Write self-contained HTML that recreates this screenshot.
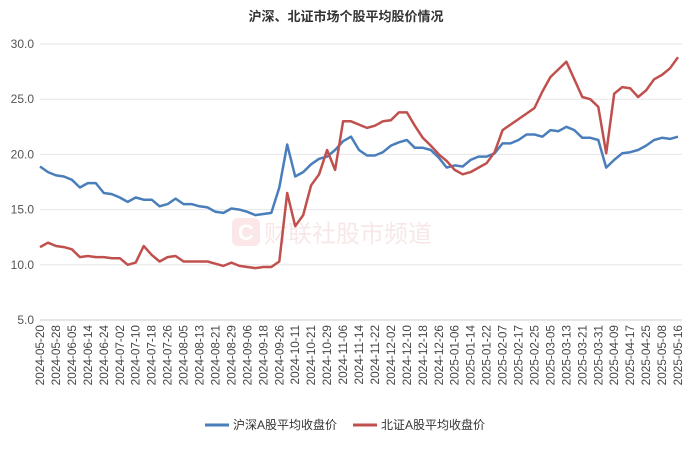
<!DOCTYPE html>
<html><head><meta charset="utf-8"><style>
body{margin:0;background:#fff;font-family:"Liberation Sans","Noto Sans CJK SC",sans-serif;}
svg text{font-family:"Liberation Sans","Noto Sans CJK SC",sans-serif;}
</style></head><body>
<svg id="chart" width="693" height="444">
<text x="346" y="21" text-anchor="middle" font-size="13" font-weight="bold" fill="#333">沪深、北证市场个股平均股价情况</text>
<g opacity="0.11">
<rect x="232" y="218" width="28" height="28" rx="6" fill="#e03030"/>
<text x="246" y="240" text-anchor="middle" font-size="22" font-weight="bold" fill="#fff">C</text>
<text x="264" y="242" font-size="24" fill="#c03030">财联社股市频道</text>
</g>
<g id="grid"></g><g id="yaxis"></g><g id="xaxis"></g><g id="series"></g>
<g>
<line x1="205" y1="425" x2="229" y2="425" stroke="#4a7ebb" stroke-width="3"/>
<text x="233" y="429" font-size="12" fill="#333">沪深A股平均收盘价</text>
<line x1="353" y1="425" x2="377" y2="425" stroke="#c0504d" stroke-width="3"/>
<text x="381" y="429" font-size="12" fill="#333">北证A股平均收盘价</text>
</g>
</svg>
<script>
const xLabels=["2024-05-20","2024-05-28","2024-06-05","2024-06-14","2024-06-24","2024-07-02","2024-07-10","2024-07-18","2024-07-26","2024-08-05","2024-08-13","2024-08-21","2024-08-29","2024-09-06","2024-09-18","2024-09-26","2024-10-11","2024-10-21","2024-10-29","2024-11-06","2024-11-14","2024-11-22","2024-12-02","2024-12-10","2024-12-18","2024-12-26","2025-01-06","2025-01-14","2025-01-22","2025-02-07","2025-02-17","2025-02-25","2025-03-05","2025-03-13","2025-03-21","2025-03-31","2025-04-09","2025-04-17","2025-04-25","2025-05-08","2025-05-16"];
const yTicks=[5,10,15,20,25,30];
const yTickLabels=["5.0","10.0","15.0","20.0","25.0","30.0"];
const shszValues=[18.9,18.4,18.1,18.0,17.7,17.0,17.4,17.4,16.5,16.4,
16.1,15.7,16.1,15.9,15.9,15.3,15.5,16.0,15.5,15.5,
15.3,15.2,14.8,14.7,15.1,15.0,14.8,14.5,14.6,14.7,
17.0,20.9,18.0,18.4,19.1,19.6,19.8,20.4,21.2,21.6,
20.4,19.9,19.9,20.2,20.8,21.1,21.3,20.6,20.6,20.4,
19.7,18.8,19.0,18.9,19.5,19.8,19.8,20.1,21.0,21.0,
21.3,21.8,21.8,21.6,22.2,22.1,22.5,22.2,21.5,21.5,
21.3,18.8,19.5,20.1,20.2,20.4,20.8,21.3,21.5,21.4,
21.6];
const bseValues=[11.6,12.0,11.7,11.6,11.4,10.7,10.8,10.7,10.7,10.6,
10.6,10.0,10.2,11.7,10.9,10.3,10.7,10.8,10.3,10.3,
10.3,10.3,10.1,9.9,10.2,9.9,9.8,9.7,9.8,9.8,
10.3,16.5,13.5,14.5,17.2,18.2,20.4,18.6,23.0,23.0,
22.7,22.4,22.6,23.0,23.1,23.8,23.8,22.6,21.5,20.8,
20.0,19.4,18.6,18.2,18.4,18.8,19.2,20.2,22.2,22.7,
23.2,23.7,24.2,25.7,27.0,27.7,28.4,26.8,25.2,25.0,
24.3,20.1,25.5,26.1,26.0,25.2,25.8,26.8,27.2,27.8,
28.8];
const NS='http://www.w3.org/2000/svg';
const X0=40,X1=678,YT=44,YB=320,YMIN=5,YMAX=30;
const n=shszValues.length;
const xScale=i=>X0+i*(X1-X0)/(n-1);
const yScale=v=>YB-(v-YMIN)/(YMAX-YMIN)*(YB-YT);
function mk(tag,attrs,parent){const e=document.createElementNS(NS,tag);for(const k in attrs)e.setAttribute(k,attrs[k]);parent.appendChild(e);return e;}
const grid=document.getElementById('grid'),ya=document.getElementById('yaxis'),xa=document.getElementById('xaxis'),sr=document.getElementById('series');
yTicks.forEach((t,k)=>{
 const y=yScale(t);
 const l=mk('line',{x1:X0,x2:682,y1:y,y2:y,stroke:t===5?'#ccc':'#e6e6e6','stroke-width':1},grid);
 
 
 const tx=mk('text',{x:34,y:y+4,'text-anchor':'end','font-size':12,fill:'#555'},ya);
 tx.textContent=yTickLabels[k];
 
 
});
xLabels.forEach((d,k)=>{
 const x=xScale(k*(n-1)/(xLabels.length-1));
 const tx=mk('text',{x:0,y:0,transform:`translate(${x+4},325) rotate(-90)`,'text-anchor':'end','font-size':11.8,fill:'#444'},xa);
 tx.textContent=d;
 
 
});
function line(vals,color,name){
 const p=mk('polyline',{points:vals.map((v,i)=>xScale(i).toFixed(1)+','+yScale(v).toFixed(1)).join(' '),fill:'none',stroke:color,'stroke-width':2.5,'stroke-linejoin':'round'},sr);
 
 
}
line(shszValues,'#4a7ebb','line-shsz-avg-price');
line(bseValues,'#c0504d','line-bse-avg-price');
</script>
</body></html>
